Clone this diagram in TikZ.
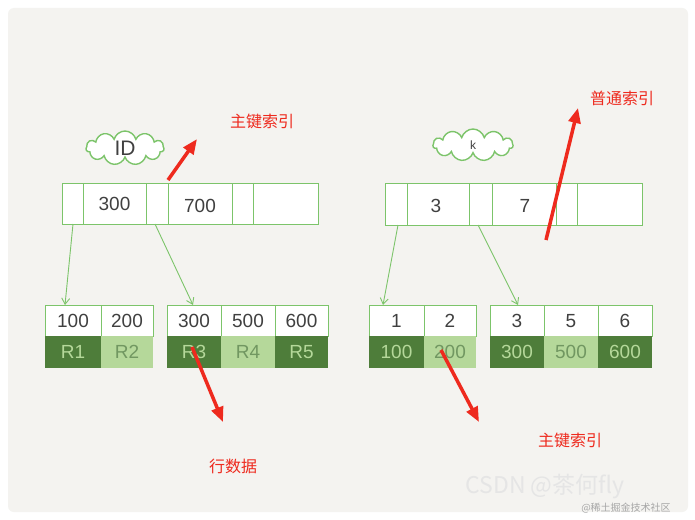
\documentclass[tikz,border=0pt]{standalone}
\usepackage{fontspec}
\setmainfont{Liberation Sans}
\newfontfamily\cjk{Noto Sans CJK SC}
\usetikzlibrary{arrows.meta,shapes.symbols}
\definecolor{bg}{HTML}{F4F3F0}
\definecolor{gline}{HTML}{7CC46A}
\definecolor{dk}{HTML}{4E7D3A}
\definecolor{lt}{HTML}{B5D89A}
\definecolor{rd}{HTML}{EE2A1E}
\tikzset{
  cellbox/.style={draw=gline,line width=1pt,fill=white},
  num/.style={font=\fontsize{19}{19}\selectfont,text=black!75},
  dnum/.style={font=\fontsize{19}{19}\selectfont,text=lt},
  lnum/.style={font=\fontsize{19}{19}\selectfont,text=dk!80},
  garrow/.style={draw=gline,line width=0.9pt,-{Straight Barb[length=6pt,width=8pt]}},
  rarrow/.style={draw=rd,line width=3.5pt,-{Triangle[length=15pt,width=12pt]}},
  lbl/.style={font=\cjk\fontsize{16}{16}\selectfont,text=rd},
  cloudn/.style={cloud,cloud puffs=11,draw=gline,line width=1.4pt,fill=white,minimum width=78pt,minimum height=34pt,aspect=2.3}
}
\begin{document}
\begin{tikzpicture}[x=1pt,y=-1pt]
\useasboundingbox (0,0) rectangle (695,519);
\fill[white] (0,0) rectangle (695,519);
\fill[bg,rounded corners=6pt] (8,8) rectangle (688,512);
% left root
\foreach \a/\b in {62/83,83/146,146/168,168/232,232/253,253/318}
  \draw[cellbox] (\a,183) rectangle (\b,224);
\node[num] (l300) at (114.5,204) {300};
\node[num] (l700) at (200,206) {700};
\coordinate (lp0) at (73,224);
\coordinate (lp1) at (155,224);
\node[cloudn] (cid) at (125,148) {};
\node[font=\fontsize{21}{21}\selectfont,text=black!75] (tid) at (125,148) {ID};
% left leaves
\foreach \a/\b/\t/\r/\s in {45/101/100/R1/d,101/153/200/R2/l,167/221/300/R3/d,221/275/500/R4/l,275/328/600/R5/d}{
  \draw[cellbox] (\a,305) rectangle (\b,336);
  \node[num] at ({(\a+\b)/2},321) {\t};
  \if d\s
    \fill[dk] (\a,336) rectangle (\b,368);
    \node[dnum] at ({(\a+\b)/2},352) {\r};
  \else
    \fill[lt] (\a,336) rectangle (\b,368);
    \node[lnum] at ({(\a+\b)/2},352) {\r};
  \fi
}
\coordinate (ll1) at (65,305);
\coordinate (ll2) at (193,305);
\draw[garrow] (lp0) -- (ll1);
\draw[garrow] (lp1) -- (ll2);
% right root
\foreach \a/\b in {385/407,407/469,469/492,492/556,556/577,577/642}
  \draw[cellbox] (\a,183) rectangle (\b,225);
\node[num] (r3) at (436,206) {3};
\node[num] (r7) at (525,206) {7};
\coordinate (rp0) at (398,225);
\coordinate (rp1) at (478,225);
\node[cloudn,minimum width=80pt,minimum height=32pt] (ck) at (473,145) {};
\node[font=\fontsize{12}{12}\selectfont,text=black!75] (tk) at (473,145) {k};
\foreach \a/\b/\t/\r/\s in {369/424/1/100/d,424/476/2/200/l,490/544/3/300/d,544/598/5/500/l,598/652/6/600/d}{
  \draw[cellbox] (\a,305) rectangle (\b,336);
  \node[num] at ({(\a+\b)/2},321) {\t};
  \if d\s
    \fill[dk] (\a,336) rectangle (\b,368);
    \node[dnum] at ({(\a+\b)/2},352) {\r};
  \else
    \fill[lt] (\a,336) rectangle (\b,368);
    \node[lnum] at ({(\a+\b)/2},352) {\r};
  \fi
}
\coordinate (rl1) at (383,305);
\coordinate (rl2) at (518,305);
\draw[garrow] (rp0) -- (rl1);
\draw[garrow] (rp1) -- (rl2);
% red labels
\node[lbl] (t1) at (262,121) {主键索引};
\node[lbl] (t2) at (622,98) {普通索引};
\node[lbl] (t3) at (233,466) {行数据};
\node[lbl] (t4) at (570,440) {主键索引};
\coordinate (a1s) at (168,180); \coordinate (a1e) at (197,139);
\coordinate (a2s) at (546,240); \coordinate (a2e) at (578,108);
\coordinate (a3s) at (192,347); \coordinate (a3e) at (223,422);
\coordinate (a4s) at (441,350); \coordinate (a4e) at (479,422);
\draw[rarrow] (a1s) -- (a1e);
\draw[rarrow] (a2s) -- (a2e);
\draw[rarrow] (a3s) -- (a3e);
\draw[rarrow] (a4s) -- (a4e);
% watermark
\node[font=\cjk\fontsize{23}{23}\selectfont,text=white!80!gray] (wm) at (545,487) {CSDN @茶何fly};
\node[font=\cjk\fontsize{10}{10}\selectfont,text=gray!70] (wm2) at (626,508) {@稀土掘金技术社区};
\end{tikzpicture}
\end{document}
